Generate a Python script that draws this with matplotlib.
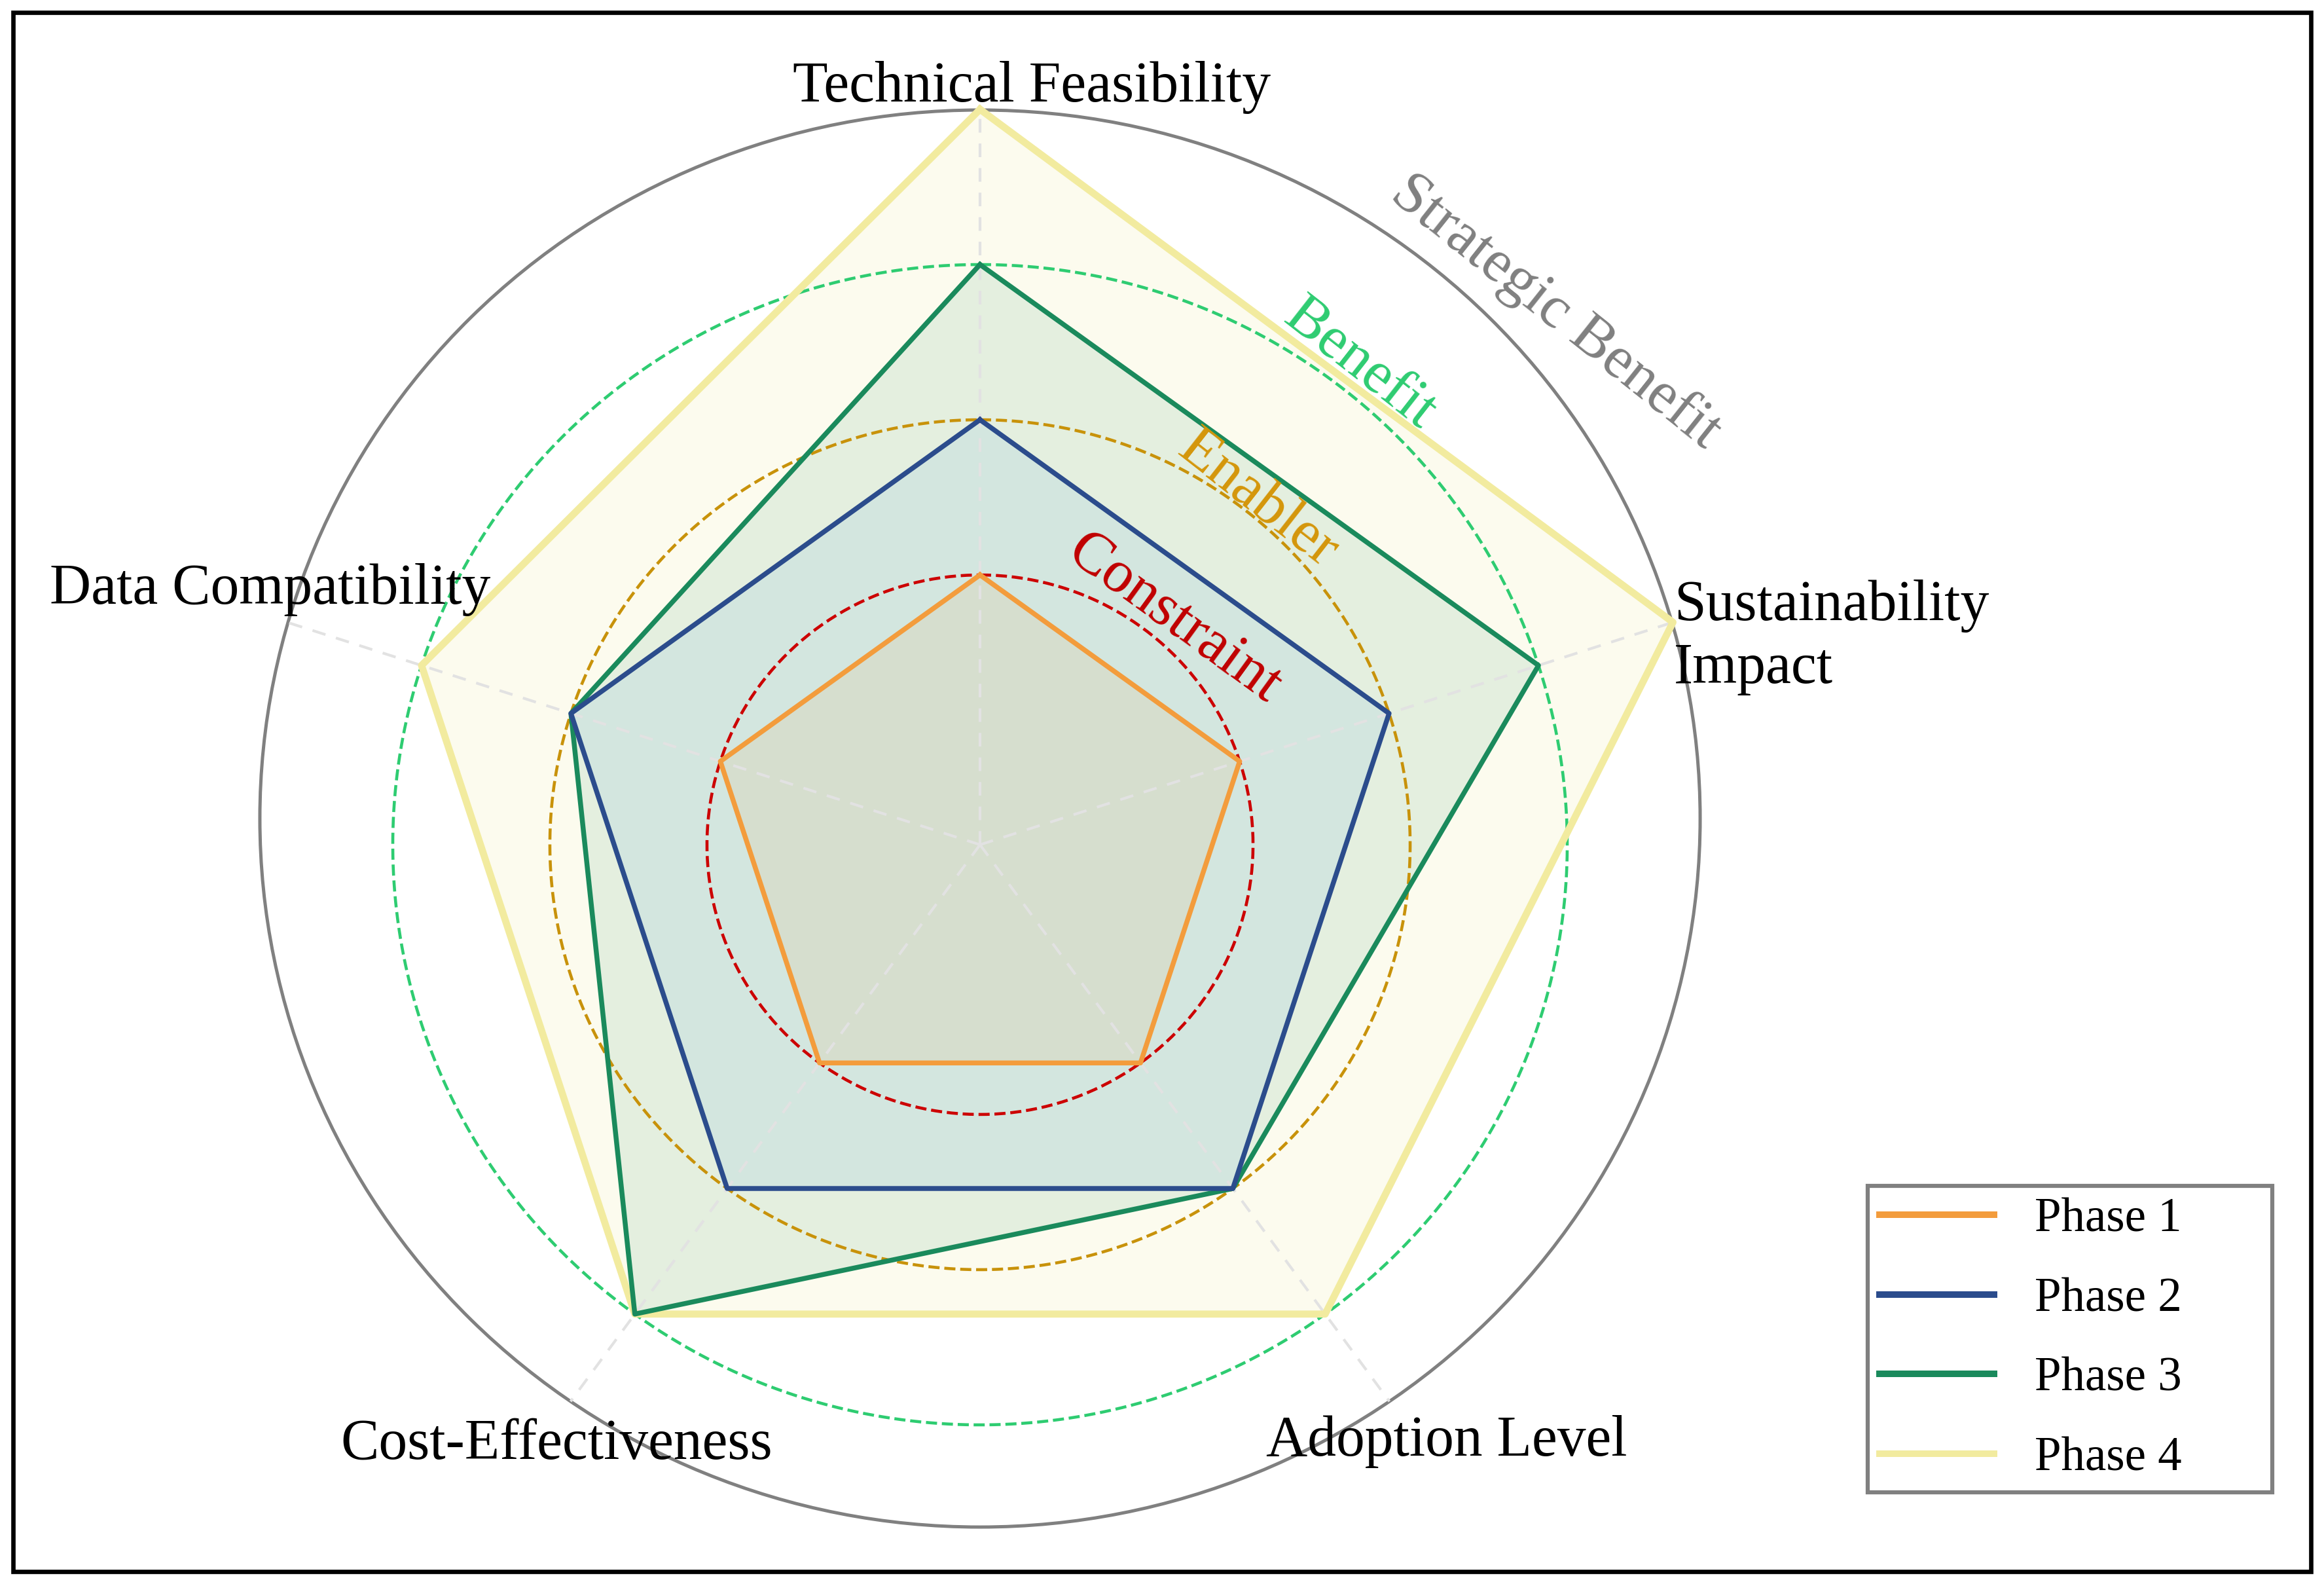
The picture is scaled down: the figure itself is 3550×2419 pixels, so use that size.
import numpy as np
import matplotlib
matplotlib.use("Agg")
import matplotlib.pyplot as plt
from matplotlib.patches import Ellipse, Rectangle
from matplotlib.lines import Line2D

plt.rcParams['font.family'] = ['Liberation Serif', 'DejaVu Serif']

# data
categories = ['Technical Feasibility', 'Sustainability\nImpact', 'Adoption Level',
              'Cost-Effectiveness', 'Data Compatibility']
phase_names = ['Phase 1', 'Phase 2', 'Phase 3', 'Phase 4']
phase1 = [2, 2, 2, 2, 2]
phase2 = [3, 3, 3, 3, 3]
phase3 = [4, 4, 3, 4, 3]
phase4 = [5, 4.9, 4, 4, 4]
level_values = [2, 3, 4]
level_names = ['Constraint', 'Enabler', 'Benefit']
outer_name = 'Strategic Benefit'

# style
line_colors = ['#F39C3C', '#2B4C8C', '#1A8A5C', '#F2EB9F']
fill_colors = ['#F39C3C', '#5DADE2', '#1A8A5C', '#F0E68C']
fill_alpha = [0.10, 0.12, 0.10, 0.14]
line_widths = [1.8, 1.8, 1.8, 2.6]
ring_colors = ['#CC0000', '#C8920A', '#2ECC71']
ring_text_colors = ['#C00000', '#D4960A', '#2ECC71']

W, H = 3550, 2419
fig = plt.figure(figsize=(W / 300, H / 300), dpi=300)

# polar axes box (pixels): centre (1497, 1290), radius 1137 x 1123
cx, cy, rx, ry = 1497, 1290, 1137, 1123
ax = fig.add_axes([(cx - rx) / W, (H - cy - ry) / H, 2 * rx / W, 2 * ry / H],
                  projection='polar')
ax.set_aspect('auto')
ax.set_theta_offset(np.pi / 2)
ax.set_theta_direction(-1)
vmin, vmax = 0.262, 5.0
ax.set_ylim(vmin, vmax)
ax.set_xticks([])
ax.set_yticks([])
ax.grid(False)
ax.spines['polar'].set_visible(False)
ax.patch.set_alpha(0)

n = len(categories)
angles = np.linspace(0, 2 * np.pi, n, endpoint=False)
closed = np.concatenate([angles, angles[:1]])

# outer "Strategic Benefit" ring (slightly offset upwards)
ecx, ecy, ew, eh = 0.5, 0.5178, 0.9675, 0.9635
ax.add_patch(Ellipse((ecx, ecy), ew, eh, transform=ax.transAxes, fill=False,
                     edgecolor='#808080', linewidth=1.2, clip_on=False, zorder=1))

# spokes running to the outer ring
for a in angles:
    dx, dy = 0.5 * np.sin(a), 0.5 * np.cos(a)
    ex, ey, c0 = ew / 2, eh / 2, ecy - 0.5
    A = (dx / ex) ** 2 + (dy / ey) ** 2
    B = -2 * dy * c0 / ey ** 2
    C = (c0 / ey) ** 2 - 1
    rho = (-B + np.sqrt(B * B - 4 * A * C)) / (2 * A)
    ax.plot([a, a], [vmin, vmin + rho * (vmax - vmin)], color='#E2E2E2',
            linewidth=1.0, linestyle=(0, (5, 4)), zorder=3, clip_on=False)

# phases
series = [phase1, phase2, phase3, phase4]
for i in [3, 2, 1, 0]:
    vals = np.concatenate([series[i], series[i][:1]])
    ax.fill(closed, vals, color=fill_colors[i], alpha=fill_alpha[i], zorder=2,
            linewidth=0, clip_on=False)
for i in [3, 2, 1, 0]:
    vals = np.concatenate([series[i], series[i][:1]])
    ax.plot(closed, vals, color=line_colors[i], linewidth=line_widths[i],
            zorder=5, clip_on=False)

# dashed level rings
ring_theta = np.linspace(0, 2 * np.pi, 400)
for lv, col in zip(level_values, ring_colors):
    ax.plot(ring_theta, np.full_like(ring_theta, lv), color=col, linewidth=1.1,
            linestyle='--', zorder=4)

# ring labels
ring_label_pos = [(40.4, 2.17, -36), (38.5, 3.10, -38), (38.0, 4.19, -38)]
for name, col, (th, r, rot) in zip(level_names, ring_text_colors, ring_label_pos):
    ax.text(np.deg2rad(th), r, name, color=col, fontsize=22, rotation=rot,
            rotation_mode='anchor', ha='center', va='center', zorder=6)
ax.text(np.deg2rad(46.9), 5.28, outer_name, color='#808080', fontsize=22,
        rotation=-38.5, rotation_mode='anchor', ha='center', va='center')

# category labels
label_pos = [(1576, 155, 'center'), (2557, 947, 'left'), (2210, 2223, 'center'),
             (850, 2228, 'center'), (413, 922, 'center')]
for name, (x, y, ha) in zip(categories, label_pos):
    if '\n' in name:
        top, bottom = name.split('\n')
        fig.text(x / W, 1 - y / H, top, fontsize=21, ha=ha, va='baseline')
        fig.text(x / W, 1 - (y + 96) / H, bottom, fontsize=21, ha=ha, va='baseline')
    else:
        fig.text(x / W, 1 - y / H, name, fontsize=21, ha=ha, va='baseline')

# legend
handles = [Line2D([0], [0], color=c, linewidth=2.4) for c in line_colors]
leg = fig.legend(handles, phase_names, loc='upper left',
                 bbox_to_anchor=(2853 / W, 1 - 1811 / H, 618 / W, 0.0),
                 mode='expand', borderaxespad=0, fontsize=17.5, frameon=True,
                 fancybox=False, edgecolor='#808080', framealpha=1,
                 handlelength=2.4, handletextpad=0.85, labelspacing=0.74,
                 borderpad=0.25)
leg.get_frame().set_linewidth(1.5)

# figure border
fig.add_artist(Rectangle((20 / W, 19 / H), 1 - 40 / W, 1 - 38 / H,
                         transform=fig.transFigure, fill=False,
                         edgecolor='black', linewidth=1.6))

fig.savefig('out.png', dpi=300)
